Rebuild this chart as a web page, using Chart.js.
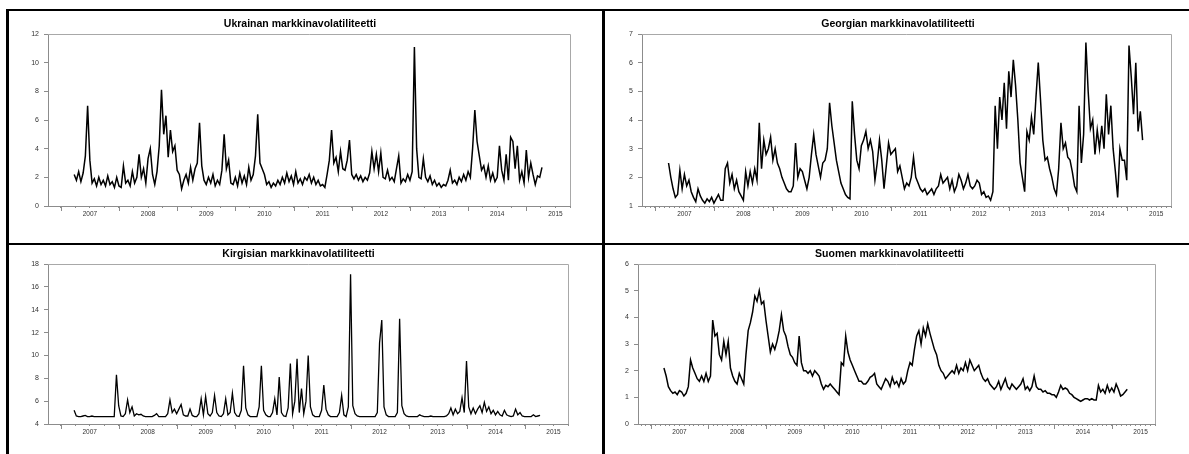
<!DOCTYPE html>
<html>
<head>
<meta charset="utf-8">
<script src="https://cdn.jsdelivr.net/npm/chart.js@4.4.1/dist/chart.umd.min.js"></script>
<style>
  html, body { margin: 0; padding: 0; background: #fff; overflow: hidden; }
  body { width: 1189px; height: 454px; position: relative; }
  .rule { position: absolute; background: #000; }
  .panel { position: absolute; }
</style>
</head>
<body>
<!-- table borders -->
<div class="rule" style="left:6px;top:9px;width:1183px;height:2px"></div>
<div class="rule" style="left:6px;top:243px;width:1183px;height:2px"></div>
<div class="rule" style="left:6px;top:9px;width:3px;height:445px"></div>
<div class="rule" style="left:602px;top:9px;width:3px;height:445px"></div>

<div class="panel" style="left:10px;top:12px;width:580px;height:220px"><canvas id="chart1"></canvas></div>
<div class="panel" style="left:605px;top:12px;width:576px;height:220px"><canvas id="chart2"></canvas></div>
<div class="panel" style="left:9px;top:245px;width:579px;height:205px"><canvas id="chart3"></canvas></div>
<div class="panel" style="left:604px;top:245px;width:571px;height:205px"><canvas id="chart4"></canvas></div>

<script>
// observations every two weeks, first one in early 2007
const START = 2007.23;
const STEP = 1 / 26;
const X_MIN = 2006.78;
const X_MAX = 2015.75;

const yearLabels = ['2007', '2008', '2009', '2010', '2011', '2012', '2013', '2014', '2015'];

const ukraine = [
  2.2, 1.8, 2.4, 1.7, 2.3, 3.5, 7.0, 3.2, 1.6, 1.9,
  1.4, 2.0, 1.5, 1.8, 1.4, 2.1, 1.5, 1.7, 1.3, 2.0,
  1.4, 1.3, 2.8, 1.6, 1.8, 1.4, 2.4, 1.6, 2.0, 3.6,
  2.0, 2.6, 1.6, 3.3, 4.0, 2.2, 1.5, 2.4, 4.2, 8.1,
  5.0, 6.3, 3.4, 5.3, 3.8, 4.2, 2.5, 2.2, 1.2, 1.8,
  2.2, 1.6, 2.7, 1.8, 2.6, 3.0, 5.8, 2.8, 1.8, 1.5,
  2.0, 1.6, 2.2, 1.4, 1.8, 1.5, 2.5, 5.0, 2.6, 3.2,
  1.6, 1.5, 2.0, 1.4, 2.3, 1.6, 2.1, 1.5, 2.7, 1.8,
  2.2, 3.5, 6.4, 3.0, 2.6, 2.2, 1.5, 1.7, 1.3, 1.6,
  1.4, 1.8, 1.5, 2.0, 1.6, 2.3, 1.7, 2.1, 1.5, 2.4,
  1.6, 1.9, 1.5, 2.0, 1.8, 2.2, 1.6, 2.0, 1.5, 1.8,
  1.4, 1.5, 1.3, 2.2, 3.2, 5.3, 3.0, 3.4, 2.4, 3.8,
  2.6, 2.5, 3.2, 4.6, 2.2, 1.9, 2.2, 1.8, 2.1, 1.7,
  2.0, 1.8, 2.3, 3.8, 2.6, 3.6, 2.4, 3.7, 2.0, 1.9,
  2.5, 1.8, 2.0, 1.7, 2.6, 3.5, 1.6, 1.9, 1.7, 2.2,
  1.8, 2.4, 11.1, 4.0, 2.0, 1.9, 3.3, 2.0, 1.7, 2.1,
  1.5, 1.8, 1.4, 1.6, 1.3, 1.5, 1.4, 1.8, 2.5, 1.6,
  1.8, 1.5, 2.0, 1.7, 2.2, 1.8, 2.4, 2.0, 4.0, 6.7,
  4.5, 3.5, 2.5, 2.8, 2.0, 2.8, 1.8, 2.3, 1.7, 2.0,
  4.2, 2.5, 1.8, 3.6, 1.8, 4.8, 4.5, 2.6, 4.2, 1.8,
  2.4, 1.6, 3.9, 2.0, 3.0, 2.2, 1.5, 2.1, 2.0, 2.7
];

const georgia = [
  2.5, 2.0, 1.6, 1.3, 1.4, 2.25, 1.6, 2.1, 1.7, 1.9,
  1.5, 1.3, 1.15, 1.6, 1.35, 1.2, 1.1, 1.25, 1.15, 1.3,
  1.1, 1.25, 1.4, 1.2, 1.2, 2.3, 2.5, 1.8, 2.1, 1.6,
  1.9, 1.5, 1.35, 1.2, 2.2, 1.7, 2.2, 1.8, 2.3, 1.9,
  3.9, 2.3, 3.3, 2.8, 3.0, 3.4, 2.6, 3.0, 2.5, 2.3,
  2.0, 1.8, 1.6, 1.5, 1.5, 1.7, 3.2, 2.0, 2.3, 2.2,
  1.9, 1.6, 2.0, 2.8, 3.5, 2.8, 2.4, 2.0, 2.5, 2.6,
  3.0, 4.6, 3.8, 3.2, 2.6, 2.2, 1.8, 1.6, 1.4, 1.3,
  1.25, 4.65, 3.5, 2.6, 2.3, 3.1, 3.3, 3.6, 3.0, 3.3,
  2.9, 1.9, 2.5, 3.3, 2.6, 1.6, 2.4, 3.2, 2.8, 2.9,
  3.0, 2.2, 2.4, 2.0, 1.6, 1.8, 1.7, 2.0, 2.7, 2.0,
  1.8, 1.6, 1.5, 1.6, 1.4, 1.5, 1.6, 1.4, 1.6, 1.7,
  2.1, 1.8, 1.9, 2.0, 1.6, 1.9, 1.5, 1.7, 2.1, 1.9,
  1.6, 1.8, 2.1, 1.7, 1.6, 1.7, 1.9, 1.8, 1.4, 1.5,
  1.3, 1.35, 1.2, 1.5, 4.5, 3.0, 4.8, 4.0, 5.3, 3.7,
  5.7, 4.8, 6.1, 5.2, 4.0, 2.5, 2.0, 1.5, 3.6, 3.3,
  4.1, 3.5, 4.8, 6.0, 4.7, 3.3, 2.6, 2.7, 2.3, 2.0,
  1.6, 1.4, 2.3, 3.9, 3.0, 3.2, 2.7, 2.6, 2.2, 1.7,
  1.5, 4.5, 2.5, 3.5, 6.7, 5.0, 3.7, 4.0, 2.8, 3.65,
  3.0, 3.8, 3.0, 4.9, 3.5, 4.5, 3.0, 2.2, 1.3, 3.0,
  2.6, 2.6, 1.9, 6.6, 5.5, 4.2, 6.0, 3.6, 4.3, 3.3
];

const kyrgyzstan = [
  5.2, 4.7, 4.65, 4.65, 4.7, 4.75, 4.65, 4.65, 4.7, 4.65,
  4.65, 4.65, 4.65, 4.65, 4.65, 4.65, 4.65, 4.65, 4.65, 8.3,
  5.6, 4.7, 4.65, 4.9, 6.1, 5.0, 5.5, 4.7, 4.9, 4.8,
  4.85, 4.7, 4.65, 4.65, 4.65, 4.65, 4.75, 4.9, 4.65, 4.65,
  4.65, 4.65, 4.9, 6.1, 5.0, 5.3, 4.9, 5.3, 5.7, 4.8,
  4.7, 4.7, 5.3, 4.75, 4.65, 4.65, 4.9, 6.2, 4.8, 6.4,
  4.9, 4.7, 5.0, 6.5, 5.0, 4.7, 4.65, 4.9, 6.2, 4.8,
  5.0, 6.7, 5.0, 4.7, 4.65, 5.2, 9.1, 5.4, 4.8, 4.65,
  4.65, 4.65, 4.65, 5.5, 9.1, 5.2, 4.8, 4.65, 4.65, 5.0,
  6.2, 4.8, 8.1, 5.0, 4.7, 4.65, 5.4, 9.3, 4.9, 6.0,
  9.7, 5.0, 7.1, 4.9, 6.0, 10.0, 5.5, 4.8, 4.65, 4.65,
  4.65, 5.2, 7.4, 5.3, 4.8, 4.65, 4.65, 4.65, 4.65, 5.0,
  6.5, 4.8, 4.65, 5.5, 17.1, 5.6, 4.9, 4.7, 4.65, 4.65,
  4.65, 4.65, 4.65, 4.65, 4.65, 4.65, 5.0, 11.1, 13.1, 5.5,
  4.8, 4.65, 4.65, 4.65, 4.65, 5.0, 13.2, 5.6, 4.9, 4.7,
  4.65, 4.65, 4.65, 4.65, 4.65, 4.8, 4.7, 4.65, 4.65, 4.65,
  4.7, 4.65, 4.65, 4.65, 4.65, 4.65, 4.65, 4.7, 4.9, 5.4,
  4.8, 5.3, 4.9, 5.1, 6.3, 5.0, 9.5, 5.5, 4.9, 5.4,
  4.9, 5.3, 5.6, 5.0, 5.9, 5.1, 5.5, 4.9, 5.2, 4.8,
  5.1, 4.8, 4.7, 5.2, 4.8, 4.7, 4.65, 4.7, 5.3, 4.8,
  5.0, 4.7, 4.65, 4.65, 4.65, 4.65, 4.8, 4.65, 4.7, 4.75
];

const finland = [
  2.1, 1.8, 1.4, 1.25, 1.15, 1.2, 1.1, 1.25, 1.2, 1.05,
  1.15, 1.4, 2.4, 2.1, 1.9, 1.7, 1.6, 1.8, 1.6, 1.9,
  1.6, 1.8, 3.9, 3.3, 3.4, 2.6, 2.4, 3.1, 2.6, 3.1,
  2.1, 1.8, 1.6, 1.5, 1.9, 1.7, 1.5, 2.6, 3.5, 3.8,
  4.2, 4.8, 4.6, 5.0, 4.5, 4.6, 3.9, 3.3, 2.7, 3.0,
  2.8, 3.1, 3.5, 4.1, 3.5, 3.3, 2.9, 2.6, 2.5, 2.3,
  2.2, 3.3, 2.3, 2.0, 2.0, 1.9, 2.0, 1.8, 2.0, 1.9,
  1.8, 1.5, 1.3, 1.45, 1.4, 1.5, 1.4, 1.3, 1.2, 1.1,
  2.3, 2.2, 3.3, 2.7, 2.4, 2.2, 2.0, 1.8, 1.6, 1.6,
  1.5, 1.5, 1.6, 1.75, 1.8, 1.9, 1.5, 1.4, 1.3, 1.5,
  1.7, 1.6, 1.4, 1.75, 1.5, 1.6, 1.4, 1.7, 1.5, 1.6,
  2.0, 2.3, 2.2, 2.8, 3.3, 3.5, 3.0, 3.6, 3.3, 3.75,
  3.4, 3.1, 2.8, 2.6, 2.2, 2.0, 1.9, 1.7, 1.8, 1.9,
  2.0, 1.9, 2.2, 1.9, 2.1, 2.0, 2.3, 2.0, 2.4, 2.2,
  2.0, 2.1, 2.2, 1.9, 1.7, 1.6, 1.7, 1.5, 1.4, 1.3,
  1.4, 1.6, 1.3, 1.5, 1.7, 1.4, 1.3, 1.5, 1.4, 1.3,
  1.4, 1.5, 1.7, 1.3, 1.4, 1.25, 1.4, 1.8, 1.4, 1.3,
  1.3, 1.2, 1.25, 1.15, 1.15, 1.1, 1.1, 1.0, 1.2, 1.45,
  1.3, 1.35, 1.3, 1.15, 1.1, 1.0, 0.95, 0.9, 0.85, 0.9,
  0.95, 0.95, 0.9, 0.95, 0.9, 0.9, 1.45, 1.2, 1.3, 1.15,
  1.45, 1.2, 1.35, 1.2, 1.5, 1.3, 1.05, 1.1, 1.2, 1.3
];

const FONT = 'Arial, "Liberation Sans", sans-serif';
const AXIS_GREY = '#8c8c8c';

function points(vals) {
  return vals.map((v, i) => ({ x: START + i * STEP, y: v }));
}

// quarterly or monthly minor ticks, year label in the middle of each year
function yearTicks(perYear) {
  const out = [];
  for (let k = Math.ceil(X_MIN * perYear); k <= X_MAX * perYear; k++) out.push({ value: k / perYear });
  return out;
}

function yearLabel(v) {
  const yr = Math.floor(v);
  if (Math.abs(v - yr - 0.5) > 1e-6) return '';
  return yearLabels[yr - 2007] || '';
}

// plot frame (top/right) and the longer year-boundary ticks
const frame = {
  id: 'frame',
  afterDraw(chart) {
    const a = chart.chartArea, ctx = chart.ctx, x = chart.scales.x;
    ctx.save();
    ctx.lineWidth = 1;
    ctx.strokeStyle = '#a8a8a8';
    ctx.beginPath();
    ctx.moveTo(a.left, Math.round(a.top) + 0.5);
    ctx.lineTo(Math.round(a.right) + 0.5, Math.round(a.top) + 0.5);
    ctx.lineTo(Math.round(a.right) + 0.5, a.bottom);
    ctx.stroke();
    ctx.strokeStyle = AXIS_GREY;
    ctx.beginPath();
    for (let yr = Math.ceil(x.min); yr <= x.max; yr++) {
      const px = Math.round(x.getPixelForValue(yr)) + 0.5;
      ctx.moveTo(px, a.bottom);
      ctx.lineTo(px, a.bottom + 5);
    }
    ctx.stroke();
    ctx.restore();
  }
};

function makeChart(id, title, values, yMin, yMax, yStep, perYear, box) {
  return new Chart(document.getElementById(id), {
    type: 'line',
    data: {
      datasets: [{
        data: points(values),
        borderColor: '#000',
        borderWidth: box.lineWidth,
        pointRadius: 0,
        tension: 0,
        fill: false
      }]
    },
    options: {
      responsive: true,
      maintainAspectRatio: false,
      animation: false,
      devicePixelRatio: 1,
      layout: { padding: { left: 20, right: box.right, top: 0, bottom: 4 } },
      plugins: {
        legend: { display: false },
        tooltip: { enabled: false },
        title: {
          display: true,
          text: title,
          color: '#000',
          font: { family: FONT, size: 10.5, weight: 'bold' },
          padding: { top: box.titleTop, bottom: box.titleBottom }
        }
      },
      scales: {
        x: {
          type: 'linear',
          min: X_MIN,
          max: X_MAX,
          afterBuildTicks: s => { s.ticks = yearTicks(perYear); },
          afterFit: s => { s.height = 22; },
          border: { color: AXIS_GREY },
          grid: { drawOnChartArea: false, tickLength: 2, tickColor: AXIS_GREY },
          ticks: {
            autoSkip: false,
            maxRotation: 0,
            minRotation: 0,
            padding: 2,
            color: '#333',
            font: { family: FONT, size: 6.5 },
            callback: v => yearLabel(v)
          }
        },
        y: {
          min: yMin,
          max: yMax,
          afterFit: s => { s.width = box.yWidth; },
          border: { color: AXIS_GREY },
          grid: { drawOnChartArea: false, tickLength: 4, tickColor: AXIS_GREY },
          ticks: {
            stepSize: yStep,
            padding: 5,
            color: '#333',
            font: { family: FONT, size: 7 }
          }
        }
      }
    },
    plugins: [frame]
  });
}

var chart1 = makeChart('chart1', 'Ukrainan markkinavolatiliteetti', ukraine, 0, 12, 2, 4,
  { yWidth: 18, right: 20, titleTop: 6.2, titleBottom: 3.2, lineWidth: 1.5 });

var chart2 = makeChart('chart2', 'Georgian markkinavolatiliteetti', georgia, 1, 7, 1, 12,
  { yWidth: 17, right: 10, titleTop: 6.2, titleBottom: 3.2, lineWidth: 1.5 });

var chart3 = makeChart('chart3', 'Kirgisian markkinavolatiliteetti', kyrgyzstan, 4, 18, 2, 4,
  { yWidth: 19, right: 20, titleTop: 3.2, titleBottom: 3.2, lineWidth: 1.3 });

var chart4 = makeChart('chart4', 'Suomen markkinavolatiliteetti', finland, 0, 6, 1, 12,
  { yWidth: 14, right: 20, titleTop: 3.2, titleBottom: 3.2, lineWidth: 1.5 });
</script>
</body>
</html>
